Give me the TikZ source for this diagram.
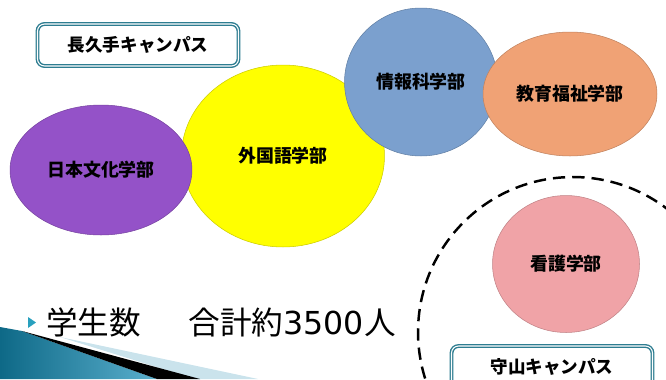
\documentclass[tikz,border=0pt]{standalone}
\usepackage{fontspec}
\setmainfont{Noto Sans CJK JP}
\newfontfamily\digitfont{DejaVu Sans}
\usetikzlibrary{shapes.geometric}
\definecolor{facpurple}{RGB}{148,82,200}
\definecolor{facyellow}{RGB}{255,255,0}
\definecolor{facblue}{RGB}{123,160,206}
\definecolor{facorange}{RGB}{240,162,117}
\definecolor{facpink}{RGB}{240,163,167}
\definecolor{campusteal}{RGB}{46,125,145}
\definecolor{bullteal}{RGB}{40,160,190}
\definecolor{swooshdark}{RGB}{14,105,135}
\definecolor{swooshlight}{RGB}{90,175,205}
\definecolor{swooshpale}{RGB}{180,215,228}
\tikzset{
  fac/.style={ellipse, draw=#1!80!black, line width=0.3pt, fill=#1, inner sep=0pt,
    font=\bfseries\fontsize{10.2}{12}\selectfont},
  campus/.style={draw=campusteal, double=white, line width=0.8pt, double distance=0.6pt,
    rounded corners=4pt, fill=white, minimum width=4.02cm, minimum height=0.84cm,
    font=\bfseries\fontsize{10}{12}\selectfont}
}
\begin{document}
\begin{tikzpicture}[x=0.02cm, y=-0.02cm]
  \useasboundingbox (0,0) rectangle (666,379);
  \clip (0,0) rectangle (666,379);

  % Nagakute campus
  \node[campus] (nagakute) at (138,45) {長久手キャンパス};
  \node[fac=facyellow, minimum width=4.06cm, minimum height=3.64cm] (gaikoku) at (283,156) {外国語学部};
  \node[fac=facpurple, minimum width=3.64cm, minimum height=2.6cm] (nihon) at (101,170) {日本文化学部};
  \node[fac=facblue, minimum width=3.06cm, minimum height=2.96cm] (joho) at (421,82) {情報科学部};
  \node[fac=facorange, minimum width=3.48cm, minimum height=2.48cm] (kyoiku) at (570,94) {教育福祉学部};

  % Moriyama campus
  \node[circle, draw, dashed, line width=1.4pt, dash pattern=on 7pt off 4pt,
    minimum size=6.2cm] (moriyama) at (573,332) {};
  \node[fac=facpink, minimum width=2.94cm, minimum height=2.74cm] (kango) at (566,264) {看護学部};
  \node[campus] (moriyamabox) at (552,367) {守山キャンパス};

  % student count
  \fill[bullteal] (28,317) -- (36,322.5) -- (28,328) -- cycle;
  \node[anchor=west, inner sep=0pt, font=\fontsize{18}{20}\selectfont] (total) at (46,322)
    {学生数\hspace{1.5em}合計約{\digitfont 3500}人};

  % corner swoosh
  \fill[swooshpale, opacity=0.7] (60,337) -- (258,379) -- (195,379) -- cycle;
  \shade[left color=swooshdark, right color=swooshlight] (0,327) -- (22,331) -- (157,379) -- (0,379) -- cycle;
  \fill[black] (22,331) -- (200,379) -- (157,379) -- cycle;
\end{tikzpicture}
\end{document}
